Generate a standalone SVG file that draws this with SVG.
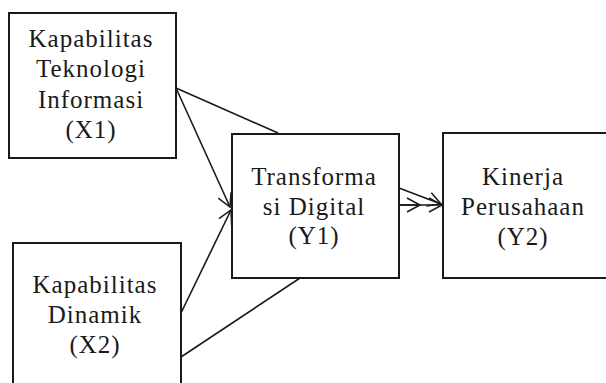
<svg xmlns="http://www.w3.org/2000/svg" width="606" height="383" viewBox="0 0 606 383">
<defs>
<marker id="arr" markerWidth="16" markerHeight="16" refX="14" refY="8" orient="auto" markerUnits="userSpaceOnUse">
<path d="M1,1 L14,8 L1,15" fill="none" stroke="#1a1a1a" stroke-width="1.5"/>
</marker>
</defs>
<style>
.box{fill:#fff;stroke:#1a1a1a;stroke-width:2}
.t{font-family:'Liberation Serif','Times New Roman',serif;font-size:25px;fill:#1a1a1a;text-anchor:middle;letter-spacing:1px}
.c{fill:none;stroke:#1a1a1a;stroke-width:1.6}
</style>
<rect width="606" height="383" fill="#fff"/>
<g id="connectors">
<line class="c" x1="176" y1="88" x2="278" y2="133"/>
<line class="c" x1="176" y1="88" x2="230" y2="207" marker-end="url(#arr)"/>
<line class="c" x1="181" y1="313" x2="231" y2="210" marker-end="url(#arr)"/>
<line class="c" x1="181" y1="357" x2="300" y2="278"/>
<line class="c" x1="399" y1="188" x2="441" y2="204" marker-end="url(#arr)"/>
<line class="c" x1="399" y1="205" x2="420" y2="205" stroke-width="3" marker-end="url(#arr)"/>
<line class="c" x1="399" y1="205" x2="442" y2="205" stroke-width="3" marker-end="url(#arr)"/>
</g>
<g id="X1">
<rect class="box" x="9" y="13" width="167" height="145"/>
<text class="t" x="91" y="47">Kapabilitas</text>
<text class="t" x="91" y="77">Teknologi</text>
<text class="t" x="91" y="108">Informasi</text>
<text class="t" x="91" y="138">(X1)</text>
</g>
<g id="X2">
<rect class="box" x="13" y="243" width="168" height="160"/>
<text class="t" x="95" y="293">Kapabilitas</text>
<text class="t" x="95" y="323">Dinamik</text>
<text class="t" x="95" y="353">(X2)</text>
</g>
<g id="Y1">
<rect class="box" x="232" y="134" width="167" height="144"/>
<text class="t" x="314" y="185">Transforma</text>
<text class="t" x="314" y="215">si Digital</text>
<text class="t" x="314" y="244">(Y1)</text>
</g>
<g id="Y2">
<rect class="box" x="443" y="133" width="200" height="145"/>
<text class="t" x="523" y="185">Kinerja</text>
<text class="t" x="523" y="215">Perusahaan</text>
<text class="t" x="523" y="245">(Y2)</text>
</g>
</svg>
